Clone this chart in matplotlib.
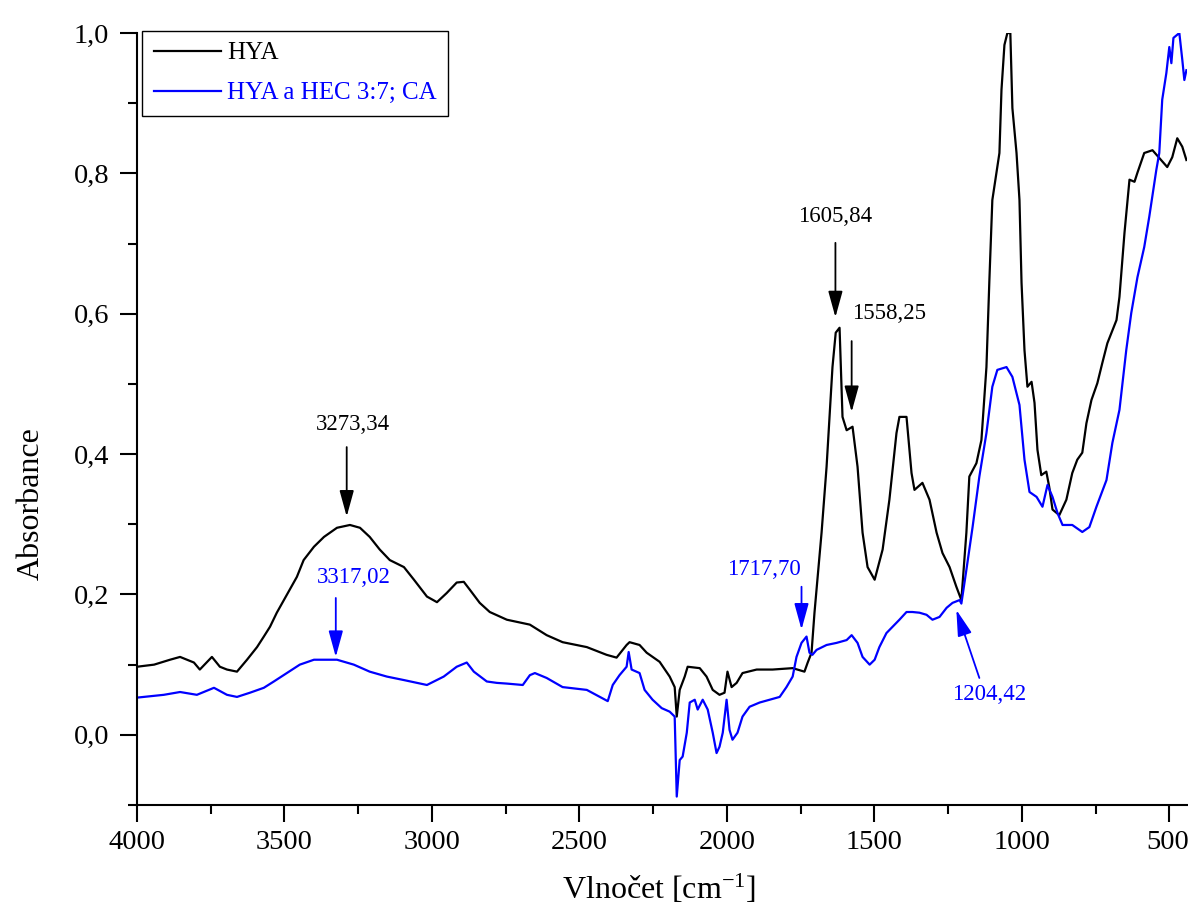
import matplotlib
matplotlib.use('Agg')
import matplotlib.pyplot as plt
from matplotlib.ticker import MultipleLocator, FixedLocator, FixedFormatter
from matplotlib.transforms import offset_copy

# ---------------- data ----------------
hya_wn = [4000, 3942, 3888, 3854, 3807, 3787, 3746, 3719, 3695, 3661, 3627, 3593, 3570,
          3549, 3526, 3502, 3482, 3458, 3435, 3400, 3366, 3322, 3278, 3244, 3211, 3177,
          3143, 3095, 3061, 3017, 2983, 2950, 2916, 2892, 2872, 2838, 2804, 2746, 2668,
          2611, 2557, 2475, 2408, 2374, 2340, 2330, 2296, 2272, 2228, 2194, 2177, 2170,
          2160, 2143, 2133, 2092, 2069, 2048, 2025, 2008, 1998, 1984, 1967, 1947, 1899,
          1845, 1777, 1737, 1726, 1713, 1703, 1679, 1662, 1652, 1642, 1631, 1618, 1608,
          1594, 1574, 1557, 1540, 1523, 1499, 1472, 1449, 1425, 1415, 1391, 1374, 1364,
          1337, 1313, 1289, 1269, 1245, 1222, 1205, 1188, 1178, 1154, 1137, 1120, 1110,
          1100, 1076, 1069, 1059, 1049, 1039, 1032, 1018, 1008, 1001, 991, 981, 967, 957,
          947, 934, 917, 907, 896, 873, 849, 829, 812, 795, 781, 764, 744, 727, 710, 679,
          669, 652, 635, 618, 608, 585, 557, 534, 507, 490, 473, 456, 442]
hya_abs = [0.097, 0.100, 0.107, 0.111, 0.103, 0.093, 0.111, 0.097, 0.093, 0.090, 0.107,
           0.125, 0.140, 0.154, 0.174, 0.192, 0.207, 0.225, 0.249, 0.268, 0.282, 0.295,
           0.299, 0.295, 0.282, 0.264, 0.249, 0.239, 0.221, 0.197, 0.189, 0.202, 0.217,
           0.218, 0.207, 0.188, 0.175, 0.164, 0.157, 0.142, 0.132, 0.125, 0.114, 0.110,
           0.128, 0.132, 0.128, 0.117, 0.104, 0.083, 0.068, 0.026, 0.064, 0.083, 0.097,
           0.095, 0.083, 0.064, 0.057, 0.060, 0.090, 0.068, 0.074, 0.088, 0.093, 0.093,
           0.095, 0.090, 0.103, 0.117, 0.174, 0.288, 0.382, 0.453, 0.524, 0.573, 0.580,
           0.453, 0.434, 0.439, 0.382, 0.288, 0.239, 0.221, 0.264, 0.335, 0.430, 0.453,
           0.453, 0.373, 0.349, 0.359, 0.335, 0.288, 0.259, 0.239, 0.211, 0.192, 0.288,
           0.368, 0.387, 0.420, 0.524, 0.648, 0.762, 0.829, 0.919, 0.983, 1.000, 1.000,
           0.893, 0.829, 0.762, 0.644, 0.548, 0.496, 0.503, 0.473, 0.406, 0.370, 0.375,
           0.353, 0.321, 0.313, 0.335, 0.373, 0.392, 0.402, 0.444, 0.477, 0.501, 0.530,
           0.558, 0.591, 0.624, 0.715, 0.791, 0.788, 0.801, 0.829, 0.833, 0.822, 0.809,
           0.823, 0.850, 0.838, 0.819]

mix_wn = [4000, 3909, 3854, 3797, 3739, 3695, 3661, 3617, 3570, 3536, 3492, 3448, 3400,
          3322, 3265, 3211, 3153, 3095, 3017, 2960, 2916, 2882, 2858, 2814, 2780, 2746,
          2692, 2668, 2651, 2611, 2557, 2475, 2431, 2404, 2387, 2364, 2340, 2333, 2323,
          2296, 2279, 2252, 2221, 2194, 2177, 2170, 2160, 2150, 2136, 2126, 2109, 2099,
          2082, 2065, 2048, 2035, 2025, 2014, 2001, 1991, 1981, 1964, 1947, 1923, 1889,
          1855, 1821, 1798, 1777, 1764, 1747, 1730, 1720, 1710, 1696, 1662, 1628, 1594,
          1577, 1557, 1540, 1516, 1499, 1483, 1459, 1438, 1415, 1391, 1371, 1347, 1323,
          1303, 1279, 1255, 1235, 1211, 1205, 1188, 1167, 1144, 1120, 1100, 1083, 1052,
          1032, 1008, 991, 974, 950, 930, 913, 896, 879, 862, 829, 795, 771, 747, 713,
          693, 669, 646, 629, 608, 585, 568, 551, 544, 534, 524, 510, 500, 493, 486, 466,
          456, 449, 442]
mix_abs = [0.053, 0.057, 0.061, 0.057, 0.067, 0.057, 0.054, 0.060, 0.067, 0.076, 0.088,
           0.100, 0.107, 0.107, 0.100, 0.090, 0.083, 0.078, 0.071, 0.083, 0.097, 0.103,
           0.090, 0.076, 0.074, 0.073, 0.071, 0.085, 0.088, 0.081, 0.068, 0.064, 0.054,
           0.048, 0.071, 0.085, 0.097, 0.118, 0.093, 0.088, 0.064, 0.050, 0.038, 0.033,
           0.026, -0.088, -0.036, -0.031, 0.003, 0.046, 0.050, 0.036, 0.050, 0.036, 0.003,
           -0.026, -0.017, 0.003, 0.050, 0.007, -0.007, 0.003, 0.026, 0.040, 0.046, 0.050,
           0.054, 0.068, 0.083, 0.111, 0.131, 0.140, 0.117, 0.114, 0.121, 0.128, 0.131,
           0.135, 0.142, 0.131, 0.111, 0.100, 0.107, 0.125, 0.145, 0.154, 0.164, 0.175,
           0.175, 0.174, 0.171, 0.164, 0.168, 0.181, 0.188, 0.192, 0.187, 0.235, 0.296,
           0.368, 0.430, 0.496, 0.520, 0.524, 0.510, 0.470, 0.392, 0.346, 0.339, 0.325,
           0.356, 0.339, 0.316, 0.299, 0.299, 0.289, 0.296, 0.325, 0.363, 0.416, 0.463,
           0.548, 0.601, 0.652, 0.695, 0.738, 0.786, 0.805, 0.829, 0.905, 0.943, 0.980,
           0.957, 0.993, 1.000, 0.962, 0.933, 0.947]

series_labels = ['HYA', 'HYA a HEC 3:7; CA']

x_ticks = [4000, 3500, 3000, 2500, 2000, 1500, 1000, 500]
x_tick_labels = ['4000', '3500', '3000', '2500', '2000', '1500', '1000', '500']
y_ticks = [0.0, 0.2, 0.4, 0.6, 0.8, 1.0]
y_tick_labels = ['0,0', '0,2', '0,4', '0,6', '0,8', '1,0']

# peak annotations: label, colour, text x, text y, text ha, arrow tail (x, y), arrow tip (x, y)
ann_labels = ['3273,34', '1605,84', '1558,25', '3317,02', '1717,70', '1204,42']
ann_colors = ['black', 'black', 'black', 'blue', 'blue', 'blue']
ann_text_x = [3268, 1632, 1577, 3265, 1876, 1110]
ann_text_y = [0.442, 0.738, 0.601, 0.224, 0.236, 0.057]
ann_text_ha = ['center', 'center', 'left', 'center', 'center', 'center']
ann_tail = [(3289, 0.410), (1632, 0.701), (1577, 0.561), (3326, 0.195), (1747, 0.211), (1144, 0.081)]
ann_tip = [(3289, 0.311), (1632, 0.595), (1577, 0.460), (3326, 0.111), (1747, 0.150), (1222, 0.178)]

# ---------------- styling ----------------
plt.rcParams['font.family'] = ['Liberation Serif', 'DejaVu Serif']
plt.rcParams['mathtext.fontset'] = 'custom'
plt.rcParams['mathtext.rm'] = 'Liberation Serif'
plt.rcParams['mathtext.it'] = 'Liberation Serif:italic'
plt.rcParams['mathtext.bf'] = 'Liberation Serif:bold'

TICK_FS = 20.5
MAJ_LEN = 12
X_PAD = 6

fig = plt.figure(figsize=(11.88, 9.11), dpi=100)
ax = fig.add_axes([137 / 1188, 1 - 805 / 911, (1187 - 137) / 1188, (805 - 33) / 911])

ax.plot(hya_wn, hya_abs, color='black', lw=1.6, label=series_labels[0])
ax.plot(mix_wn, mix_abs, color='blue', lw=1.6, label=series_labels[1])

ax.set_xlim(4000, 440)
ax.set_ylim(-0.1, 1.0)

# last x tick label sits against the right edge of the figure: drawn separately so it stays whole
shown_x_labels = x_tick_labels[:-1] + ['']
ax.xaxis.set_major_locator(FixedLocator(x_ticks))
ax.xaxis.set_major_formatter(FixedFormatter(shown_x_labels))
ax.xaxis.set_minor_locator(MultipleLocator(250))
ax.yaxis.set_major_locator(FixedLocator(y_ticks))
ax.yaxis.set_major_formatter(FixedFormatter(y_tick_labels))
ax.yaxis.set_minor_locator(MultipleLocator(0.1))

for s in ['top', 'right']:
    ax.spines[s].set_visible(False)
for s in ['left', 'bottom']:
    ax.spines[s].set_linewidth(1.5)

ax.tick_params(which='major', direction='out', length=MAJ_LEN, width=1.5, labelsize=TICK_FS)
ax.tick_params(which='minor', direction='out', length=6.5, width=1.5)
ax.tick_params(axis='x', which='major', pad=X_PAD)
ax.tick_params(axis='y', which='major', pad=8)

last_tr = offset_copy(ax.get_xaxis_transform(), fig=fig, x=-1.5, y=-(MAJ_LEN + X_PAD), units='points')
ax.text(x_ticks[-1], 0, x_tick_labels[-1], transform=last_tr, fontsize=TICK_FS,
        ha='center', va='top')

ax.set_xlabel('Vlnočet [cm$^{-1}$]', fontsize=23)
ax.set_ylabel('Absorbance', fontsize=23)
ax.xaxis.set_label_coords(0.497, -0.088)
ax.yaxis.set_label_coords(-0.087, 0.39)

for lab, c, tx, ty, ha, tail, tip in zip(ann_labels, ann_colors, ann_text_x, ann_text_y,
                                        ann_text_ha, ann_tail, ann_tip):
    ax.text(tx, ty, lab, color=c, fontsize=16.5, ha=ha, va='center')
    ax.annotate('', xy=tip, xytext=tail,
                arrowprops=dict(arrowstyle='-|>,head_length=0.8,head_width=0.22',
                                color=c, lw=1.3, shrinkA=0, shrinkB=0, mutation_scale=20))

leg = ax.legend(loc='upper left', bbox_to_anchor=(0.005, 1.003), fontsize=18,
                frameon=True, fancybox=False, edgecolor='black', framealpha=1,
                handlelength=2.7, handletextpad=0.25, labelspacing=0.7,
                borderpad=0.45, borderaxespad=0)
leg.get_frame().set_linewidth(1.0)
for t, c in zip(leg.get_texts(), ['black', 'blue']):
    t.set_color(c)

fig.savefig('out.png', dpi=100)
